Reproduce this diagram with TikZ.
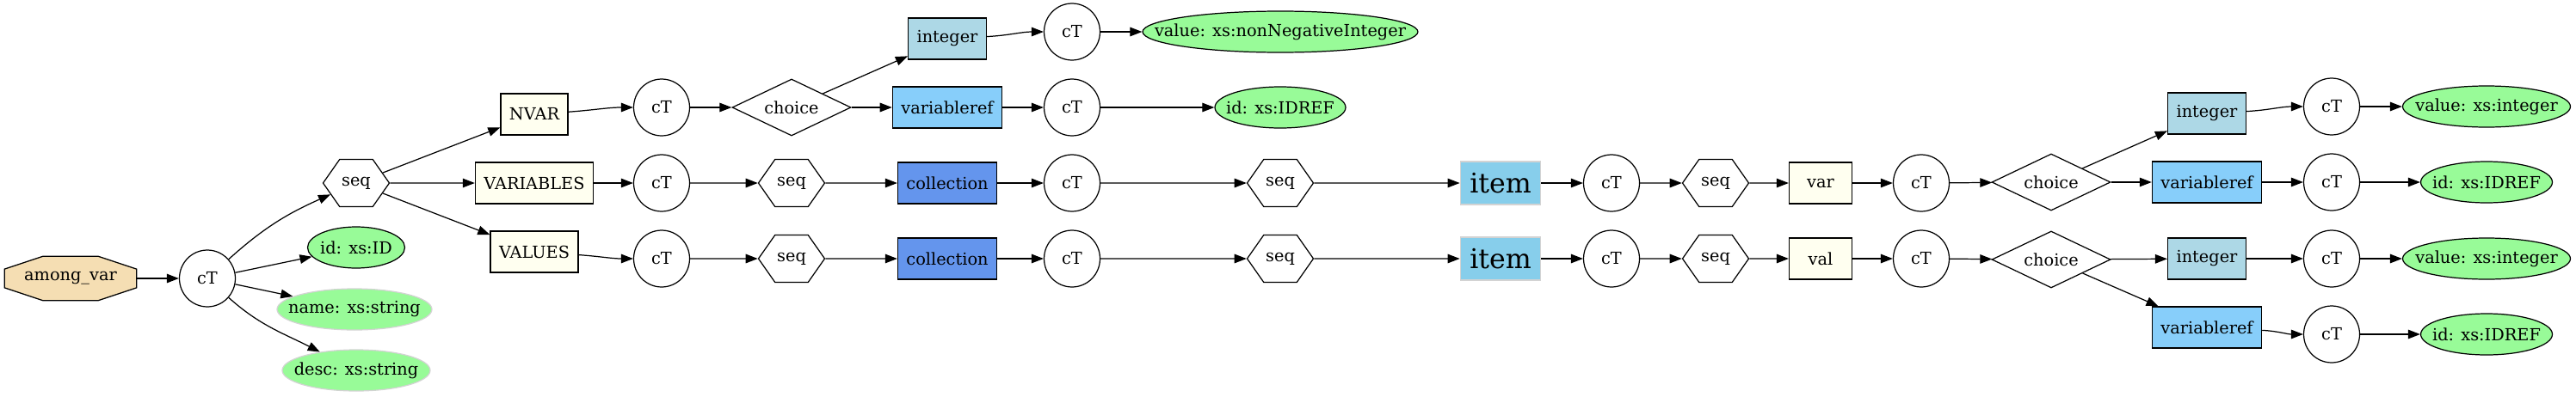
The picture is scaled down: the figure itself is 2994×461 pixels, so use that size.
\documentclass[tikz,border=0pt]{standalone}
\usepackage{fontspec}
\setmainfont{DejaVu Serif}
\usetikzlibrary{shapes.geometric,shapes.symbols,arrows.meta,backgrounds}
\definecolor{wheat}{HTML}{F5DEB3}
\definecolor{palegreen}{HTML}{98FB98}
\definecolor{ivory}{HTML}{FFFFF0}
\definecolor{lightblue}{HTML}{ADD8E6}
\definecolor{lightskyblue}{HTML}{87CEFA}
\definecolor{cornflower}{HTML}{6495ED}
\definecolor{skyblue}{HTML}{87CEEB}
\definecolor{lightgrey}{HTML}{D3D3D3}
\newcommand{\flatlabel}[1]{\makebox[0pt]{#1}}
\tikzset{basic/.style={draw,line width=0.7pt,font=\fontsize{11}{13}\selectfont}}
\tikzset{octo/.style={rectangle,inner sep=0pt,minimum width=3.06cm,minimum height=1.02cm,font=\fontsize{11}{13}\selectfont}}
\tikzset{ctype/.style={basic,ellipse,minimum width=1.3cm,minimum height=1.32cm,inner sep=0pt}}
\tikzset{elem/.style={basic,rectangle,inner xsep=0.2cm,inner ysep=0pt,minimum width=1.46cm,minimum height=0.96cm}}
\tikzset{itembox/.style={rectangle,draw=lightgrey,line width=0.7pt,fill=skyblue,font=\fontsize{18}{20}\selectfont,inner xsep=0.22cm,inner ysep=0pt,minimum height=1cm}}
\tikzset{seqnode/.style={basic,signal,signal to=west and east,signal pointer angle=110,minimum width=1.54cm,minimum height=1.1cm,inner sep=0pt}}
\tikzset{choicenode/.style={basic,diamond,aspect=2.1,minimum width=2.76cm,minimum height=1.32cm,inner sep=0pt}}
\tikzset{attr/.style={basic,ellipse,fill=palegreen,minimum width=#1,minimum height=0.96cm,inner sep=0pt}}
\tikzset{attrpale/.style={attr=#1,draw=lightgrey}}
\tikzset{link/.style={draw,line width=0.7pt,-{Triangle[length=8pt,width=6pt]}}}

\begin{document}
\begin{tikzpicture}[x=0.02cm,y=0.02cm]
    \useasboundingbox (0,0) rectangle (2994,461);

    % root and its attributes
    \node[octo] (among) at (82,137) {among\_var};
    \begin{scope}[on background layer]
        \filldraw[draw=black,fill=wheat,line width=0.7pt]
            ([xshift=0.9cm]among.north west) -- ([xshift=-0.9cm]among.north east)
            -- ([yshift=-0.3cm]among.north east) -- ([yshift=0.3cm]among.south east)
            -- ([xshift=-0.9cm]among.south east) -- ([xshift=0.9cm]among.south west)
            -- ([yshift=0.3cm]among.south west) -- ([yshift=-0.3cm]among.north west) -- cycle;
    \end{scope}
    \node[ctype] (ct0) at (241,137) {cT};
    \node[seqnode] (seq0) at (414,248) {seq};
    \node[attr=2.26cm] (idid) at (414,173) {\flatlabel{id: xs:ID}};
    \node[attrpale=3.6cm] (name) at (412,101) {\flatlabel{name: xs:string}};
    \node[attrpale=3.44cm] (desc) at (414,30) {\flatlabel{desc: xs:string}};

    % NVAR, VARIABLES, VALUES
    \node[elem,fill=ivory] (nvar) at (621,328) {NVAR};
    \node[elem,fill=ivory] (vars) at (621,248) {VARIABLES};
    \node[elem,fill=ivory] (vals) at (621,168) {VALUES};
    \node[ctype] (ctn) at (769,336) {cT};
    \node[ctype] (ctv) at (769,248) {cT};
    \node[ctype] (ctl) at (769,160) {cT};
    \node[choicenode] (chn) at (920,336) {choice};
    \node[seqnode] (seqv) at (920,248) {seq};
    \node[seqnode] (seql) at (920,160) {seq};

    \node[elem,fill=lightblue] (intn) at (1101,416) {integer};
    \node[elem,fill=lightskyblue] (refn) at (1101,336) {variableref};
    \node[elem,fill=cornflower] (colv) at (1101,248) {collection};
    \node[elem,fill=cornflower] (coll) at (1101,160) {collection};
    \node[ctype] (ctin) at (1246,424) {cT};
    \node[ctype] (ctrn) at (1246,336) {cT};
    \node[ctype] (ctcv) at (1246,248) {cT};
    \node[ctype] (ctcl) at (1246,160) {cT};
    \node[attr=6.4cm] (nonneg) at (1488,424) {\flatlabel{value: xs:nonNegativeInteger}};
    \node[attr=3.04cm] (idrefn) at (1488,336) {\flatlabel{id: xs:IDREF}};
    \node[seqnode] (seqcv) at (1488,248) {seq};
    \node[seqnode] (seqcl) at (1488,160) {seq};

    % items
    \node[itembox] (itemv) at (1744,248) {item};
    \node[itembox] (iteml) at (1744,160) {item};
    \node[ctype] (ctiv) at (1873,248) {cT};
    \node[ctype] (ctil) at (1873,160) {cT};
    \node[seqnode] (seqiv) at (1994,248) {seq};
    \node[seqnode] (seqil) at (1994,160) {seq};
    \node[elem,fill=ivory] (var) at (2116,248) {var};
    \node[elem,fill=ivory] (val) at (2116,160) {val};
    \node[ctype] (ctvar) at (2233,248) {cT};
    \node[ctype] (ctval) at (2233,160) {cT};
    \node[choicenode] (chvar) at (2384,249) {choice};
    \node[choicenode] (chval) at (2384,159) {choice};

    \node[elem,fill=lightblue] (intvar) at (2565,329) {integer};
    \node[elem,fill=lightskyblue] (refvar) at (2565,249) {variableref};
    \node[elem,fill=lightblue] (intval) at (2565,160) {integer};
    \node[elem,fill=lightskyblue] (refval) at (2565,80) {variableref};
    \node[ctype] (cta) at (2710,337) {cT};
    \node[ctype] (ctb) at (2710,249) {cT};
    \node[ctype] (ctc) at (2710,160) {cT};
    \node[ctype] (ctd) at (2710,72) {cT};
    \node[attr=3.9cm] (valvar) at (2890,337) {\flatlabel{value: xs:integer}};
    \node[attr=3.06cm] (idvar) at (2890,249) {\flatlabel{id: xs:IDREF}};
    \node[attr=3.9cm] (valval) at (2890,160) {\flatlabel{value: xs:integer}};
    \node[attr=3.06cm] (idval) at (2890,72) {\flatlabel{id: xs:IDREF}};

    % connectors
    \path[link] (among) -- (ct0);
    \path[link] (ct0) to[out=42,in=204] (seq0);
    \path[link] (ct0) -- (idid);
    \path[link] (ct0) -- (name);
    \path[link] (ct0) to[out=-42,in=153] (desc);

    \path[link] (seq0) -- (nvar);
    \path[link] (seq0) -- (vars);
    \path[link] (seq0) -- (vals);
    \path[link] (nvar) to[out=4,in=180] (ctn);
    \path[link] (vars) -- (ctv);
    \path[link] (vals) to[out=-4,in=180] (ctl);
    \path[link] (ctn) -- (chn);
    \path[link] (ctv) -- (seqv);
    \path[link] (ctl) -- (seql);

    \path[link] (chn) -- (intn);
    \path[link] (chn) -- (refn);
    \path[link] (seqv) -- (colv);
    \path[link] (seql) -- (coll);
    \path[link] (intn) to[out=3,in=180] (ctin);
    \path[link] (refn) -- (ctrn);
    \path[link] (colv) -- (ctcv);
    \path[link] (coll) -- (ctcl);
    \path[link] (ctin) -- (nonneg);
    \path[link] (ctrn) -- (idrefn);
    \path[link] (ctcv) -- (seqcv);
    \path[link] (ctcl) -- (seqcl);

    \path[link] (seqcv) -- (itemv);
    \path[link] (seqcl) -- (iteml);
    \path[link] (itemv) -- (ctiv);
    \path[link] (iteml) -- (ctil);
    \path[link] (ctiv) -- (seqiv);
    \path[link] (ctil) -- (seqil);
    \path[link] (seqiv) -- (var);
    \path[link] (seqil) -- (val);
    \path[link] (var) -- (ctvar);
    \path[link] (val) -- (ctval);
    \path[link] (ctvar) -- (chvar);
    \path[link] (ctval) -- (chval);

    \path[link] (chvar) -- (intvar);
    \path[link] (chvar) -- (refvar);
    \path[link] (chval) -- (intval);
    \path[link] (chval) -- (refval);
    \path[link] (intvar) to[out=3,in=180] (cta);
    \path[link] (refvar) -- (ctb);
    \path[link] (intval) -- (ctc);
    \path[link] (refval) to[out=-3,in=180] (ctd);
    \path[link] (cta) -- (valvar);
    \path[link] (ctb) -- (idvar);
    \path[link] (ctc) -- (valval);
    \path[link] (ctd) -- (idval);
\end{tikzpicture}
\end{document}
